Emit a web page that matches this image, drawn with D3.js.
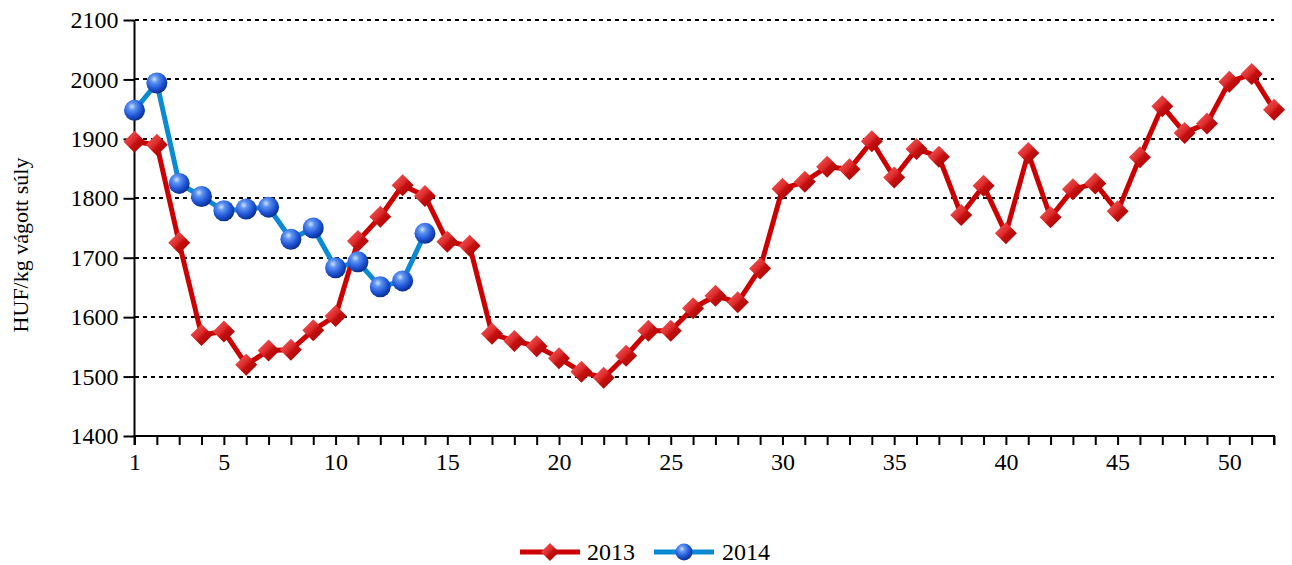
<!DOCTYPE html>
<html>
<head>
<meta charset="utf-8">
<script src="https://cdn.jsdelivr.net/npm/d3@7"></script>
<style>
  html, body { margin: 0; padding: 0; background: #fff; }
  svg { display: block; }
  text { font-family: "Liberation Serif", "Times New Roman", serif; fill: #000; }
</style>
</head>
<body>
<svg id="chart" width="1292" height="565"></svg>
<script>
const weeks = d3.range(1, 53);
const series2013 = [1895, 1890, 1725, 1570, 1576, 1520, 1544, 1545, 1578, 1602,
  1728, 1769, 1822, 1804, 1727, 1720, 1572, 1560, 1551, 1531,
  1508, 1498, 1535, 1577, 1577, 1615, 1636, 1625, 1682, 1816,
  1828, 1853, 1849, 1896, 1835, 1883, 1870, 1772, 1821, 1741,
  1876, 1768, 1815, 1825, 1778, 1869, 1955, 1910, 1926, 1996,
  2009, 1949];
const series2014 = [1948, 1994, 1825, 1803, 1779, 1782, 1785, 1731, 1750, 1683,
  1693, 1651, 1661, 1741];
const yTicks = [1400, 1500, 1600, 1700, 1800, 1900, 2000, 2100];
const xLabels = [1, 5, 10, 15, 20, 25, 30, 35, 40, 45, 50];
const seriesNames = ["2013", "2014"];
const yTitle = "HUF/kg vágott súly";

const FONT = '"Liberation Serif", "Times New Roman", serif';
const svg = d3.select("#chart");
const margin = {left: 134.5, right: 18, top: 20, bottom: 129};
const W = 1292, H = 565;
const x = d3.scaleLinear().domain([1, 52]).range([margin.left, W - margin.right]);
const y = d3.scaleLinear().domain([1400, 2100]).range([H - margin.bottom, margin.top]);

const defs = svg.append("defs");
const dg = defs.append("linearGradient").attr("id", "diamondGrad")
  .attr("x1", "0").attr("y1", "0").attr("x2", "1").attr("y2", "1");
dg.append("stop").attr("offset", "0%").attr("stop-color", "#f26a6a");
dg.append("stop").attr("offset", "45%").attr("stop-color", "#dd2a2a");
dg.append("stop").attr("offset", "55%").attr("stop-color", "#c41010");
dg.append("stop").attr("offset", "100%").attr("stop-color", "#a00000");
const sg = defs.append("radialGradient").attr("id", "sphereGrad")
  .attr("cx", "0.38").attr("cy", "0.32").attr("r", "0.7");
sg.append("stop").attr("offset", "0%").attr("stop-color", "#cfe2ff");
sg.append("stop").attr("offset", "25%").attr("stop-color", "#5c93f0");
sg.append("stop").attr("offset", "65%").attr("stop-color", "#1f55d6");
sg.append("stop").attr("offset", "100%").attr("stop-color", "#0a2c8c");

// gridlines
svg.append("g").selectAll("line").data(yTicks.slice(1)).join("line")
  .attr("x1", x(1)).attr("x2", x(52))
  .attr("y1", d => Math.round(y(d))).attr("y2", d => Math.round(y(d)))
  .attr("stroke", "#000").attr("stroke-width", 2)
  .attr("shape-rendering", "crispEdges")
  .attr("stroke-dasharray", "4,4");

// axes
const yAxis = svg.append("g").attr("transform", `translate(${x(1)},0)`)
  .call(d3.axisLeft(y).tickValues(yTicks).tickSize(11).tickPadding(5).tickFormat(d3.format("d")));
const xAxis = svg.append("g").attr("transform", `translate(0,${y(1400)})`)
  .call(d3.axisBottom(x).tickValues(weeks).tickSize(9).tickPadding(8)
    .tickFormat(d => xLabels.includes(d) ? d : ""));
[yAxis, xAxis].forEach(g => {
  g.attr("font-family", null).attr("font-size", null);
  g.select(".domain").attr("stroke", "#000").attr("stroke-width", 2);
  g.selectAll(".tick line").attr("stroke", "#000").attr("stroke-width", 2);
  g.selectAll(".tick text")
    .style("font-family", FONT).style("font-size", "24px").style("fill", "#000");
});
xAxis.select(".domain").attr("d", `M${x(1)},9V0H${x(52)}V9`);
yAxis.select(".domain").attr("d", `M0,${y(2100)}V${y(1400)}`);

// y title
svg.append("text").attr("transform", `translate(28,245) rotate(-90)`)
  .attr("text-anchor", "middle").style("font-family", FONT).style("font-size", "22px").text(yTitle);

const line = d3.line().x((d, i) => x(i + 1)).y(d => y(d));
const diamond = s => `M0,${-s}L${s},0L0,${s}L${-s},0Z`;

// 2013
svg.append("path").datum(series2013).attr("d", line)
  .attr("fill", "none").attr("stroke", "#cc0000").attr("stroke-width", 5)
  .attr("stroke-linejoin", "round");
svg.append("g").selectAll("path").data(series2013).join("path")
  .attr("transform", (d, i) => `translate(${x(i + 1)},${y(d)})`)
  .attr("d", diamond(11)).attr("fill", "url(#diamondGrad)");

// 2014
svg.append("path").datum(series2014).attr("d", line)
  .attr("fill", "none").attr("stroke", "#0a8ad2").attr("stroke-width", 5)
  .attr("stroke-linejoin", "round");
svg.append("g").selectAll("circle").data(series2014).join("circle")
  .attr("cx", (d, i) => x(i + 1)).attr("cy", d => y(d)).attr("r", 10.5)
  .attr("fill", "url(#sphereGrad)");

// legend
const leg = svg.append("g");
const ly = 552;
leg.append("line").attr("x1", 520).attr("x2", 580).attr("y1", ly).attr("y2", ly)
  .attr("stroke", "#cc0000").attr("stroke-width", 5);
leg.append("path").attr("transform", `translate(550,${ly})`).attr("d", diamond(9))
  .attr("fill", "url(#diamondGrad)");
leg.append("text").attr("x", 587).attr("y", ly + 8).style("font-family", FONT).style("font-size", "24px").text(seriesNames[0]);
leg.append("line").attr("x1", 654).attr("x2", 714).attr("y1", ly).attr("y2", ly)
  .attr("stroke", "#0a8ad2").attr("stroke-width", 5);
leg.append("circle").attr("cx", 684).attr("cy", ly).attr("r", 8.5)
  .attr("fill", "url(#sphereGrad)");
leg.append("text").attr("x", 722).attr("y", ly + 8).style("font-family", FONT).style("font-size", "24px").text(seriesNames[1]);
</script>
</body>
</html>
